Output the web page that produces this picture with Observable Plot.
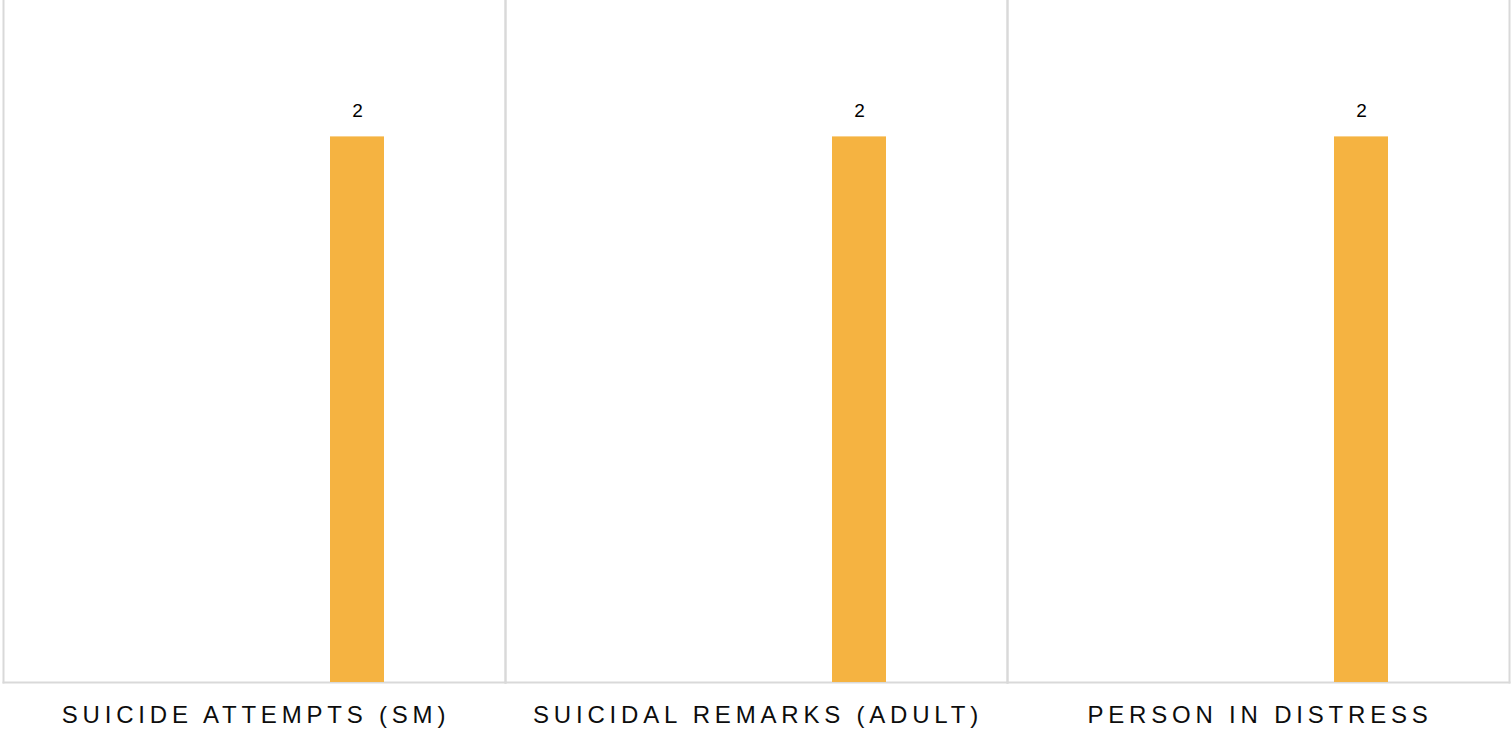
<!DOCTYPE html>
<html>
<head>
<meta charset="utf-8">
<script src="https://cdn.jsdelivr.net/npm/d3@7"></script>
<script src="https://cdn.jsdelivr.net/npm/@observablehq/plot@0.6"></script>
<style>
  html, body { margin: 0; padding: 0; background: #ffffff; }
  #chart svg { display: block; }
  #chart g[aria-label="fx-axis tick label"] text { letter-spacing: 4.8px; }
</style>
</head>
<body>
<div id="chart"></div>
<script>
const categories = ["SUICIDE ATTEMPTS (SM)", "SUICIDAL REMARKS (ADULT)", "PERSON IN DISTRESS"];
const seriesNames = ["Count"];
const counts = [2, 2, 2];
const yDomain = [0, 2.5];

const data = categories.map((c, i) => ({category: c, series: seriesNames[0], value: counts[i]}));

const chart = Plot.plot({
  width: 1511,
  height: 736,
  marginLeft: 3,
  marginRight: 2,
  marginTop: 0,
  marginBottom: 54,
  style: {fontFamily: "'Liberation Sans', Arial, sans-serif", background: "#ffffff", color: "#111"},
  fx: {domain: categories, padding: 0, label: null},
  x: {domain: seriesNames, axis: null, paddingInner: 0, paddingOuter: 4.148, align: 0.7299},
  y: {domain: yDomain, axis: null},
  marks: [
    Plot.frame({anchor: "left", stroke: "#d9d9d9", strokeWidth: 2}),
    Plot.frame({anchor: "right", stroke: "#d9d9d9", strokeWidth: 2}),
    Plot.frame({anchor: "bottom", stroke: "#d9d9d9", strokeWidth: 2}),
    Plot.barY(data, {fx: "category", x: "series", y: "value", fill: "#f5b341"}),
    Plot.text(data, {fx: "category", x: "series", y: "value", text: d => String(d.value),
      lineAnchor: "bottom", dy: -20, fontSize: 19, fill: "#000"}),
    Plot.axisFx({anchor: "bottom", tickSize: 0, tickPadding: 23, fontSize: 24, dx: 1.5, label: null, fill: "#0d0d0d"})
  ]
});
document.getElementById("chart").appendChild(chart);
</script>
</body>
</html>
